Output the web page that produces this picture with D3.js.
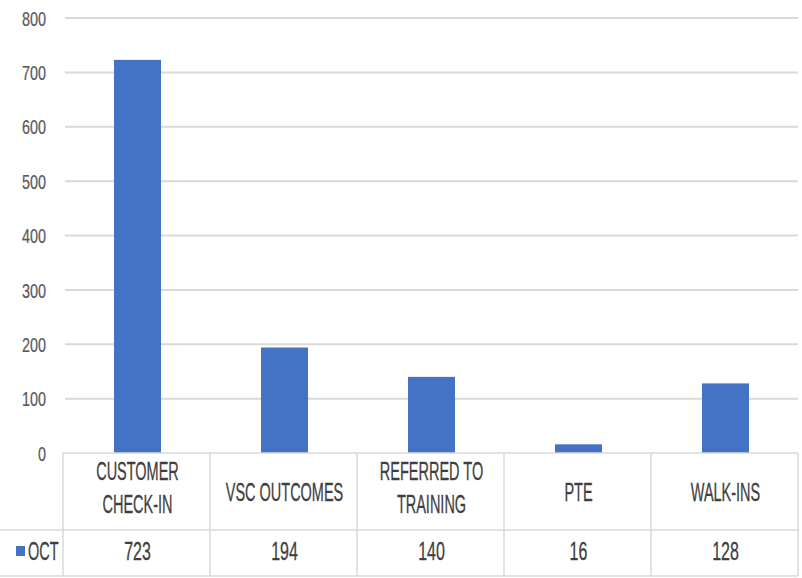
<!DOCTYPE html>
<html><head><meta charset="utf-8">
<script src="https://cdn.jsdelivr.net/npm/d3@7"></script>
<style>body{margin:0;background:#fff}svg{display:block}</style>
</head><body><svg id="c" width="802" height="578"></svg>
<script>
const categories = [["CUSTOMER","CHECK-IN"],["VSC OUTCOMES"],["REFERRED TO","TRAINING"],["PTE"],["WALK-INS"]];
const seriesName = "OCT";
const values = [723, 194, 140, 16, 128];
const yTicks = [0,100,200,300,400,500,600,700,800];

(function(){
const svg = d3.select("#c");
const font = "'Liberation Sans',Arial,sans-serif";
const mL = 63, mR = 798, mT = 18, mB = 453;
const x = d3.scaleBand().domain(d3.range(values.length)).range([mL, mR]).paddingInner(0).paddingOuter(0);
const y = d3.scaleLinear().domain([0, 800]).range([mB, mT]);
const blue = "#4472C4", grid = "#d9d9d9";
const sx = 0.58, fs = 25;

// gridlines
svg.append("g").selectAll("line").data(yTicks.filter(d=>d>0)).join("line")
  .attr("x1", mL+2).attr("x2", mR).attr("y1", d=>y(d)).attr("y2", d=>y(d))
  .attr("stroke", grid).attr("stroke-width", 2);

// y axis labels
const yAxis = d3.axisLeft(y).tickValues(yTicks).tickSize(0).tickPadding(0);
const ga = svg.append("g").attr("transform", `translate(46,0)`).call(yAxis);
ga.select(".domain").remove();
ga.selectAll("text").attr("font-family", font).attr("font-size", 20).attr("fill", "#595959")
  .attr("stroke", "#595959").attr("stroke-width", 0.25)
  .attr("x", 0).attr("dy", "0.358em").attr("transform", "scale(0.72,1)");

// bars
const bw = 47;
svg.append("g").selectAll("rect").data(values).join("rect")
  .attr("x", (d,i)=>x(i)+x.bandwidth()/2 - bw/2 + 1).attr("width", bw)
  .attr("y", d=>y(d)).attr("height", d=>y(0)-y(d)).attr("fill", blue);

// data table
const rowTop = mB, rowMid = 530, rowBot = 576;
const tl = svg.append("g").attr("stroke", grid).attr("stroke-width", 1.5);
tl.append("line").attr("x1", mL).attr("x2", mR).attr("y1", rowTop).attr("y2", rowTop);
tl.append("line").attr("x1", 0).attr("x2", mR).attr("y1", rowMid).attr("y2", rowMid);
tl.append("line").attr("x1", 0).attr("x2", mR).attr("y1", rowBot).attr("y2", rowBot);
d3.range(values.length+1).forEach(i=>{
  const xx = i<values.length ? x(i) : mR;
  tl.append("line").attr("x1", xx).attr("x2", xx).attr("y1", rowTop).attr("y2", rowBot);
});

const tc = svg.append("g").attr("font-family", font).attr("font-size", fs).attr("fill", "#3f3f3f")
  .attr("stroke", "#3f3f3f").attr("stroke-width", 0.3).attr("text-anchor", "middle");
function put(t, cx, cy, s){
  tc.append("text").attr("transform", `translate(${cx},${cy}) scale(${s},1)`).attr("dy","0.358em").text(t);
}
categories.forEach((lines,i)=>{
  const cx = x(i)+x.bandwidth()/2 + 1;
  const lh = 33;
  const cy = lines.length > 1 ? 488 : 492;
  lines.forEach((t,j)=> put(t, cx, cy + (j-(lines.length-1)/2)*lh, sx));
  put(String(values[i]), cx, 551, 0.64);
});

// legend key
svg.append("rect").attr("x", 16).attr("y", 546).attr("width", 9).attr("height", 10).attr("fill", blue);
tc.append("text").attr("text-anchor","start").attr("transform", `translate(28,551) scale(${sx},1)`).attr("dy","0.358em").text(seriesName);
})();
</script></body></html>
